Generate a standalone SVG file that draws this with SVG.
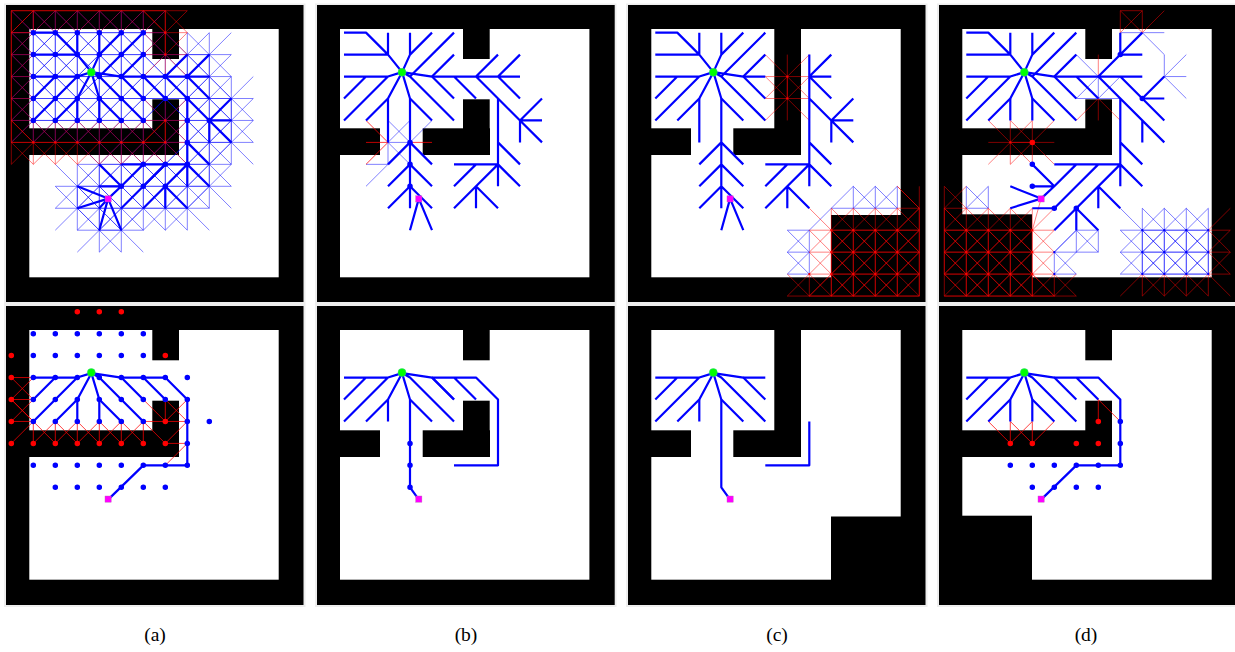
<svg xmlns="http://www.w3.org/2000/svg" xmlns:xlink="http://www.w3.org/1999/xlink" width="1235" height="652" viewBox="0 0 1235 652">
<style>
.frame{fill:#eee}
.b{fill:#000}
.w{fill:#fff}
path,use{vector-effect:non-scaling-stroke}
.bt{stroke:#00f;stroke-width:.5;fill:none}
.rt{stroke:#f00;stroke-width:.5;fill:none}
path.rt{stroke-width:.75}
.tk{stroke:#00f;stroke-width:2.2;fill:none;stroke-linejoin:round}
.dot{stroke:#00f;stroke-width:5.5;stroke-linecap:round;fill:none}
.rdot{stroke:#f00;stroke-width:5.5;stroke-linecap:round;fill:none}
.sdot{stroke:#f00;stroke-width:2.2;stroke-linecap:round;fill:none}
.sbl{stroke:#00f;stroke-width:2.2;stroke-linecap:round;fill:none}
.s{fill:#0f0;stroke:#3c8;stroke-width:.5}
.g{fill:#f0f;stroke:#b6b;stroke-width:.4}
text{font-family:"Liberation Serif","Times New Roman",serif;font-size:19.5px;fill:#000;text-anchor:middle}
</style>
<defs>
<path id="s" d="M-1 0H1M0-1V1M-1-1L1 1M-1 1L1-1"/>
<path id="sT" d="M-1 0H1M0 0V1M0 0L-1 1M0 0L1 1"/>
<path id="sL" d="M0-1V1M0 0H1M0 0L1-1M0 0L1 1"/>
<path id="sB" d="M-1 0H1M0 0V-1M0 0L-1-1M0 0L1-1"/>
<path id="sR" d="M0-1V1M0 0H-1M0 0L-1-1M0 0L-1 1"/>
<path id="treeL" d="M1 3H3L3.64 2.8M2 3L1 4M3 3L1 5M3.64 2.8L3 4L2 5M3.64 2.8L4 4L5 5M3.64 2.8L4 3L6 5M3.64 2.8L5 3L6 4"/>
<path id="treeT" d="M1 1H2L3 2L3.64 2.8L4 2V1M4 2L5 1M1 2H3V1M4 3L6 1M5 3L6 2"/>
<path id="treeR" d="M5 3H9M6 3L7 4M7 3L8 2M8 3L9 2M8 3L9 4M7 3L8 4L9 5L10 4M9 5H10M9 5V6M9 5L10 6M8 4V8M8 6L9 7M8 7L9 8M8 7H6M7 7L6 8M8 7L7 8L6 9M7 8V9M7 8L8 9"/>
<path id="pathEnd" d="M5 3H7L8 4V7H6L4.4 8.56M6 3L7 4"/>
</defs>

<g id="frames">
<rect class="frame" x="4" y="3.5" width="301.5" height="300.5"/>
<rect class="frame" x="315" y="3.5" width="301.5" height="300.5"/>
<rect class="frame" x="626" y="3.5" width="301.5" height="300.5"/>
<rect class="frame" x="937" y="3.5" width="298" height="300.5"/>
<rect class="frame" x="4" y="304" width="301.5" height="303"/>
<rect class="frame" x="315" y="304" width="301.5" height="303"/>
<rect class="frame" x="626" y="304" width="301.5" height="303"/>
<rect class="frame" x="937" y="304" width="298" height="303"/>
</g>

<!-- ===== panel a, top ===== -->
<g id="a-top">
<rect class="b" x="6" y="5" width="297.5" height="297"/>
<rect class="w" x="29.3" y="29" width="249.4" height="248.3"/>
<rect class="b" x="152.3" y="29" width="26.7" height="30"/>
<rect class="b" x="152.3" y="99.3" width="26.7" height="55.7"/>
<rect class="b" x="29" y="128.3" width="150" height="26.7"/>
<g transform="translate(11.3 10.7) scale(22 21.95)">
<g class="bt">
<use href="#s" x="1" y="1"/><use href="#s" x="2" y="1"/><use href="#s" x="3" y="1"/><use href="#s" x="4" y="1"/><use href="#s" x="5" y="1"/><use href="#s" x="6" y="1"/>
<use href="#s" x="1" y="2"/><use href="#s" x="2" y="2"/><use href="#s" x="3" y="2"/><use href="#s" x="4" y="2"/><use href="#s" x="5" y="2"/><use href="#s" x="6" y="2"/><use href="#s" x="8" y="2"/><use href="#s" x="9" y="2"/>
<use href="#s" x="1" y="3"/><use href="#s" x="2" y="3"/><use href="#s" x="3" y="3"/><use href="#s" x="4" y="3"/><use href="#s" x="5" y="3"/><use href="#s" x="6" y="3"/><use href="#s" x="7" y="3"/><use href="#s" x="8" y="3"/><use href="#s" x="9" y="3"/>
<use href="#s" x="1" y="4"/><use href="#s" x="2" y="4"/><use href="#s" x="3" y="4"/><use href="#s" x="4" y="4"/><use href="#s" x="5" y="4"/><use href="#s" x="6" y="4"/><use href="#s" x="7" y="4"/><use href="#s" x="8" y="4"/><use href="#s" x="9" y="4"/><use href="#s" x="10" y="4"/>
<use href="#s" x="1" y="5"/><use href="#s" x="2" y="5"/><use href="#s" x="3" y="5"/><use href="#s" x="4" y="5"/><use href="#s" x="5" y="5"/><use href="#s" x="6" y="5"/><use href="#s" x="8" y="5"/><use href="#s" x="9" y="5"/><use href="#s" x="10" y="5"/>
<use href="#s" x="8" y="6"/><use href="#s" x="9" y="6"/><use href="#s" x="10" y="6"/>
<use href="#s" x="4" y="7"/><use href="#s" x="5" y="7"/><use href="#s" x="6" y="7"/><use href="#s" x="7" y="7"/><use href="#s" x="8" y="7"/><use href="#s" x="9" y="7"/>
<use href="#s" x="3" y="8"/><use href="#s" x="4" y="8"/><use href="#s" x="5" y="8"/><use href="#s" x="6" y="8"/><use href="#s" x="7" y="8"/><use href="#s" x="8" y="8"/><use href="#s" x="9" y="8"/>
<use href="#s" x="3" y="9"/><use href="#s" x="4" y="9"/><use href="#s" x="5" y="9"/><use href="#s" x="6" y="9"/><use href="#s" x="7" y="9"/><use href="#s" x="8" y="9"/>
<use href="#s" x="4" y="10"/><use href="#s" x="5" y="10"/>
</g>
<g class="rt">
<path d="M0 0H1V1ZM0 0V1H1"/>
<use href="#sT" x="1" y="0"/><use href="#sT" x="2" y="0"/><use href="#sT" x="3" y="0"/><use href="#sT" x="4" y="0"/><use href="#sT" x="5" y="0"/><use href="#sT" x="6" y="0"/><use href="#sT" x="7" y="0"/>
<use href="#sL" x="0" y="1"/><use href="#sL" x="0" y="2"/><use href="#sL" x="0" y="3"/><use href="#sL" x="0" y="4"/><use href="#sL" x="0" y="5"/><use href="#sL" x="0" y="6"/>
<use href="#s" x="7" y="1"/><use href="#s" x="7" y="2"/><use href="#s" x="7" y="5"/>
<use href="#s" x="1" y="6"/><use href="#s" x="2" y="6"/><use href="#s" x="3" y="6"/><use href="#s" x="4" y="6"/><use href="#s" x="5" y="6"/><use href="#s" x="6" y="6"/><use href="#s" x="7" y="6"/>
</g>
<g class="tk">
<use href="#treeL"/><use href="#treeT"/><use href="#treeR"/>
<path d="M3 4V5M4 4V5M6 7H5M6 7L5 8M7 7L6 8L5 9M5 8L4 7M5 8H4M5 8L4.4 8.56L3 8M4.4 8.56L3 9M4.4 8.56L4 9M4.4 8.56L4 10M4.4 8.56L5 10"/>
</g>
<path class="sdot" d="M7 1h.001M7 2h.001M7 5h.001M1 6h.001M2 6h.001M3 6h.001M4 6h.001M5 6h.001M6 6h.001M7 6h.001"/>
<path class="dot" d="M1 1h.001M2 1h.001M3 1h.001M4 1h.001M5 1h.001M6 1h.001M1 2h.001M2 2h.001M3 2h.001M4 2h.001M5 2h.001M6 2h.001M1 3h.001M2 3h.001M3 3h.001M4 3h.001M5 3h.001M6 3h.001M7 3h.001M8 3h.001M1 4h.001M2 4h.001M3 4h.001M4 4h.001M5 4h.001M6 4h.001M7 4h.001M8 4h.001M1 5h.001M2 5h.001M3 5h.001M4 5h.001M5 5h.001M6 5h.001M8 5h.001M9 5h.001M8 6h.001M6 7h.001M7 7h.001M8 7h.001M5 8h.001M6 8h.001M7 8h.001"/>
</g>
<circle class="s" cx="91.3" cy="72.3" r="4"/>
<rect class="g" x="105" y="195.8" width="6.2" height="6.2"/>
</g>

<!-- ===== panel b, top ===== -->
<g id="b-top" transform="translate(310.7 0)">
<rect class="b" x="6.3" y="5" width="297.7" height="297"/>
<rect class="w" x="29.3" y="29" width="249.4" height="248.3"/>
<rect class="b" x="152.3" y="29" width="26.7" height="30"/>
<rect class="b" x="152.3" y="99.3" width="26.7" height="55.7"/>
<rect class="b" x="29" y="128.3" width="40.3" height="26.7"/>
<rect class="b" x="112" y="128.3" width="67.3" height="26.7"/>
<g transform="translate(11.3 10.7) scale(22 21.95)">
<path class="bt" d="M3 6L4 5M3 5L4 6M4 6L5 5M3 6L4 7M3 6H4M3 6V7M2 7H3M2 8L3 7"/>
<path class="rt" d="M2 5L3 6M2 6H3M2 7L3 6M4 6H5"/>
<g class="tk">
<use href="#treeL"/><use href="#treeT"/><use href="#treeR"/>
<path d="M3 4V6M3 7L4 6M4 4V9M4 6L5 7M4 7L3 8M4 7L5 8M4 8L3 9M4 8L5 9M4.4 8.56L4 10M4.4 8.56L5 10"/>
</g>
<path class="dot" d="M4 6h.001M4 7h.001M4 8h.001"/>
</g>
<circle class="s" cx="91.3" cy="72.3" r="4"/>
<rect class="g" x="105" y="195.8" width="6.2" height="6.2"/>
</g>

<!-- ===== panel c, top ===== -->
<g id="c-top" transform="translate(622 0)">
<rect class="b" x="6" y="5" width="297.5" height="297"/>
<rect class="w" x="29.3" y="29" width="249.4" height="248.3"/>
<rect class="b" x="152.3" y="29" width="26.7" height="126"/>
<rect class="b" x="29" y="128.3" width="40" height="26.7"/>
<rect class="b" x="111.3" y="128.3" width="67.7" height="26.7"/>
<rect class="b" x="209" y="215" width="70" height="63"/>
<g transform="translate(11.3 10.7) scale(22 21.95)">
<path class="bt" d="M7 10H8V12M7 11H8M7 12H8M7 10L8 11M7 11L8 10M7 11L8 12M7 12L8 11M8 10L10 8V9M10 8L11 9M11 8L10 9M11 8V9M11 8L12 9M12 8L11 9M12 8V9M9 9H12"/>
<g class="rt">
<use href="#s" x="7" y="3"/><use href="#s" x="7" y="4"/>
<use href="#s" x="9" y="10"/><use href="#s" x="10" y="10"/><use href="#s" x="11" y="10"/><use href="#s" x="12" y="10"/>
<use href="#s" x="9" y="11"/><use href="#s" x="10" y="11"/><use href="#s" x="11" y="11"/><use href="#s" x="12" y="11"/>
<use href="#s" x="9" y="12"/><use href="#s" x="10" y="12"/><use href="#s" x="11" y="12"/><use href="#s" x="12" y="12"/>
<use href="#sR" x="13" y="9"/><use href="#sR" x="13" y="10"/><use href="#sR" x="13" y="11"/><use href="#sR" x="13" y="12"/>
<use href="#sB" x="8" y="13"/><use href="#sB" x="9" y="13"/><use href="#sB" x="10" y="13"/><use href="#sB" x="11" y="13"/><use href="#sB" x="12" y="13"/>
<path d="M12 13H13V12M7 13L8 12M12 8L13 9"/>
</g>
<g class="tk">
<use href="#treeL"/><use href="#treeT"/>
<path d="M5 3H6M3 4V6M4 4V9M4 6L3 7M4 6L5 7M4 7L3 8M4 7L5 8M4 8L3 9M4 8L5 9M4.4 8.56L4 10M4.4 8.56L5 10"/>
<path d="M8 2V8M8 3L9 2M8 3H9M8 3L9 4M8 4L9 5L10 4M9 5H10M9 5V6M9 5L10 6M8 6L9 7M8 7L9 8M8 7H6M7 7L6 8M8 7L7 8L6 9M7 8V9M7 8L8 9"/>
</g>
<path class="sdot" d="M7 3h.001M7 4h.001M9 10h.001M10 10h.001M11 10h.001M12 10h.001M9 11h.001M10 11h.001M11 11h.001M12 11h.001M8 12h.001M9 12h.001M10 12h.001M11 12h.001M12 12h.001"/>
</g>
<circle class="s" cx="91.3" cy="72.3" r="4"/>
<rect class="g" x="105" y="195.8" width="6.2" height="6.2"/>
</g>

<!-- ===== panel d, top ===== -->
<g id="d-top" transform="translate(933 0)">
<rect class="b" x="6" y="5" width="296" height="297"/>
<rect class="w" x="29.3" y="29" width="249.4" height="248.3"/>
<rect class="b" x="152.3" y="29" width="26.7" height="30"/>
<rect class="b" x="152.3" y="99.3" width="26.7" height="55.7"/>
<rect class="b" x="29" y="128.3" width="150" height="26.7"/>
<rect class="b" x="29" y="214.3" width="70" height="64"/>
<g transform="translate(11.3 10.7) scale(22 21.95)">
<g class="bt">
<use href="#s" x="9" y="10"/><use href="#s" x="10" y="10"/><use href="#s" x="11" y="10"/>
<use href="#s" x="9" y="11"/><use href="#s" x="10" y="11"/><use href="#s" x="11" y="11"/>
<use href="#sB" x="9" y="12"/><use href="#sB" x="10" y="12"/><use href="#sB" x="11" y="12"/>
<use href="#sR" x="12" y="10"/><use href="#sR" x="12" y="11"/>
<path d="M12 12H11M12 12V11M12 12L11 11"/>
<path d="M6 2L7 3M6 4H8M7 3V4M6 4L7 3M8 4L7 3M6 3L7 4M8 3L7 4"/>
<path d="M9 1H10M9 1L10 2V3M10 3H11M10 3L11 2M10 3L11 4M8 1H9"/>
<path d="M1 8V9H2V8M1 8L2 9M2 8L1 9"/>
<path d="M5 12V11L6 10L7 11V10H6V11H7M6 10L5 11M5 11H6M5 11L6 12M6 11L5 12H6M7 10L6 11"/>
</g>
<g class="rt">
<use href="#s" x="3" y="6"/><use href="#s" x="4" y="6"/>
<path d="M7 2V3M7 4V5M6 5L7 4L8 5"/>
<path d="M8 0H9V1M8 0V1M8 0L9 1M9 0L8 1M10 0L9 1"/>
<path d="M12 10H13M12 11H13M12 12H13M13 9L12 10L13 11L12 12M13 10L12 11L13 12"/>
<path d="M8 13L9 12V13M9 12L10 13M10 12L9 13M10 12V13M10 12L11 13M11 12L10 13M11 12V13M11 12L12 13M12 12L11 13M12 12V13M12 12L13 13"/>
<use href="#sL" x="0" y="9"/><use href="#sL" x="0" y="10"/><use href="#sL" x="0" y="11"/><use href="#sL" x="0" y="12"/>
<path d="M0 8L1 9"/>
<use href="#s" x="1" y="10"/><use href="#s" x="2" y="10"/><use href="#s" x="3" y="10"/><use href="#s" x="4" y="10"/>
<use href="#s" x="1" y="11"/><use href="#s" x="2" y="11"/><use href="#s" x="3" y="11"/><use href="#s" x="4" y="11"/>
<use href="#s" x="1" y="12"/><use href="#s" x="2" y="12"/><use href="#s" x="3" y="12"/><use href="#s" x="4" y="12"/>
<use href="#sB" x="1" y="13"/><use href="#sB" x="2" y="13"/><use href="#sB" x="3" y="13"/><use href="#sB" x="4" y="13"/><use href="#sB" x="5" y="13"/>
<path d="M0 13H1M5 12L6 13M4.4 8.56L4 10"/>
</g>
<g class="tk">
<use href="#treeL"/><use href="#treeT"/>
<path d="M3 4V5M4 4V5M5 3H9M6 3L7 4M7 3L9 1M8 1V2M8 2H9M8 3L9 4L10 3M9 4H10M9 4L10 5M7 3L10 6M9 5V6M8 4V8M8 6L9 7M8 7L9 8M8 7H5M6 7L5 8M7 7L6 8L5 9M8 7L5 10M7 8V9M7 8L8 9M6 9V10M6 9L7 10M5 9H4M5 8L4 7M5 8H4M5 8L4.4 8.56L3 8M4.4 8.56L3 9"/>
</g>
<path class="sdot" d="M3 6h.001M1 10h.001M2 10h.001M3 10h.001M4 10h.001M1 11h.001M2 11h.001M3 11h.001M4 11h.001M1 12h.001M2 12h.001M3 12h.001M4 12h.001"/>
<path class="sbl" d="M9 10h.001M10 10h.001M11 10h.001M12 10h.001M9 11h.001M10 11h.001M11 11h.001M12 11h.001M9 12h.001M10 12h.001M11 12h.001M12 12h.001M5 11h.001M5 12h.001"/>
<path class="rdot" d="M4 6h.001"/>
<path class="dot" d="M8 2h.001M9 4h.001M5 9h.001M6 9h.001M4 7h.001M4 8h.001"/>
</g>
<circle class="s" cx="91.3" cy="72.3" r="4"/>
<rect class="g" x="105" y="195.8" width="6.2" height="6.2"/>
</g>

<!-- ===== panel a, bottom ===== -->
<g id="a-bottom" transform="translate(0 301)">
<rect class="b" x="6" y="5" width="297.5" height="299"/>
<rect class="w" x="29.3" y="29" width="249.4" height="249.7"/>
<rect class="b" x="152.3" y="29" width="26.7" height="30.3"/>
<rect class="b" x="152.3" y="99.7" width="26.7" height="56.3"/>
<rect class="b" x="29" y="129.3" width="150" height="26.7"/>
<g transform="translate(11.3 10.7) scale(22 21.95)">
<path class="rt" d="M1 3H0L1 4H0L1 5H0M1 3L0 4L1 5M1 4L0 5M1 5L0 6M1 5V6M1 5L2 6M2 5L1 6M2 5V6M2 5L3 6M3 5L2 6M3 5V6M3 5L4 6M4 5L3 6M4 5V6M4 5L5 6M5 5L4 6M5 5V6M5 5L6 6M6 5L5 6M6 5V6M6 5L7 6M6 5H8M6 4L7 5V4L8 5M8 4L7 5M8 5L7 6H8M8 6L7 7"/>
<g class="tk">
<use href="#treeL"/><use href="#pathEnd"/>
<path d="M3 4V5M4 4V5"/>
</g>
<path class="rdot" d="M3 0h.001M4 0h.001M5 0h.001M0 2h.001M7 2h.001M0 3h.001M0 4h.001M0 5h.001M7 5h.001M0 6h.001M1 6h.001M2 6h.001M3 6h.001M4 6h.001M5 6h.001M6 6h.001M7 6h.001"/>
<path class="dot" d="M1 1h.001M2 1h.001M3 1h.001M4 1h.001M5 1h.001M6 1h.001M1 2h.001M2 2h.001M3 2h.001M4 2h.001M5 2h.001M6 2h.001M1 3h.001M2 3h.001M3 3h.001M4 3h.001M5 3h.001M6 3h.001M7 3h.001M8 3h.001M1 4h.001M2 4h.001M3 4h.001M4 4h.001M5 4h.001M6 4h.001M7 4h.001M8 4h.001M1 5h.001M2 5h.001M3 5h.001M4 5h.001M5 5h.001M6 5h.001M8 5h.001M9 5h.001M8 6h.001M1 7h.001M2 7h.001M3 7h.001M4 7h.001M5 7h.001M6 7h.001M7 7h.001M8 7h.001M2 8h.001M3 8h.001M4 8h.001M5 8h.001M6 8h.001M7 8h.001"/>
</g>
<circle class="s" cx="91.3" cy="71.6" r="4"/>
<rect class="g" x="105" y="195" width="6.2" height="6.2"/>
</g>

<!-- ===== panel b, bottom ===== -->
<g id="b-bottom" transform="translate(310.7 301)">
<rect class="b" x="6.3" y="5" width="297.7" height="299"/>
<rect class="w" x="29.3" y="29" width="249.4" height="249.7"/>
<rect class="b" x="152.3" y="29" width="26.7" height="30.3"/>
<rect class="b" x="152.3" y="99.7" width="26.7" height="56.3"/>
<rect class="b" x="29" y="129.3" width="40.3" height="26.7"/>
<rect class="b" x="112" y="129.3" width="67.3" height="26.7"/>
<g transform="translate(11.3 10.7) scale(22 21.95)">
<g class="tk">
<use href="#treeL"/>
<path d="M3 4V5M4 4V8L4.4 8.56M5 3H7L8 4V7H6M5 3L6 4M6 3L7 4"/>
</g>
<path class="dot" d="M4 6h.001M4 7h.001M4 8h.001"/>
</g>
<circle class="s" cx="91.3" cy="71.6" r="4"/>
<rect class="g" x="105" y="195" width="6.2" height="6.2"/>
</g>

<!-- ===== panel c, bottom ===== -->
<g id="c-bottom" transform="translate(622 301)">
<rect class="b" x="6" y="5" width="297.5" height="299"/>
<rect class="w" x="29.3" y="29" width="249.4" height="249.7"/>
<rect class="b" x="152.3" y="29" width="26.7" height="127"/>
<rect class="b" x="29" y="129.3" width="40" height="26.7"/>
<rect class="b" x="111.3" y="129.3" width="67.7" height="26.7"/>
<rect class="b" x="209" y="215.5" width="70" height="64"/>
<g transform="translate(11.3 10.7) scale(22 21.95)">
<g class="tk">
<use href="#treeL"/>
<path d="M3 4V5M4 4V8L4.4 8.56M5 3H6M6 7H8V5"/>
</g>
</g>
<circle class="s" cx="91.3" cy="71.6" r="4"/>
<rect class="g" x="105" y="195" width="6.2" height="6.2"/>
</g>

<!-- ===== panel d, bottom ===== -->
<g id="d-bottom" transform="translate(933 301)">
<rect class="b" x="6" y="5" width="296" height="299"/>
<rect class="w" x="29.3" y="29" width="249.4" height="249.7"/>
<rect class="b" x="152.3" y="29" width="26.7" height="30.3"/>
<rect class="b" x="152.3" y="99.7" width="26.7" height="56.3"/>
<rect class="b" x="29" y="129.3" width="150" height="26.7"/>
<rect class="b" x="29" y="214.7" width="70" height="65"/>
<g transform="translate(11.3 10.7) scale(22 21.95)">
<path class="rt" d="M2 5L3 6V5L4 6V5L3 6M5 5L4 6M7 4V5M7 4L8 5"/>
<g class="tk">
<use href="#treeL"/><use href="#pathEnd"/>
<path d="M3 4V5M4 4V5"/>
</g>
<path class="rdot" d="M7 5h.001M6 6h.001M7 6h.001M3 6h.001M4 6h.001"/>
<path class="dot" d="M8 5h.001M8 6h.001M8 7h.001M7 7h.001M6 7h.001M5 7h.001M4 7h.001M3 7h.001M4 8h.001M5 8h.001M6 8h.001M7 8h.001"/>
</g>
<circle class="s" cx="91.3" cy="71.6" r="4"/>
<rect class="g" x="105" y="195" width="6.2" height="6.2"/>
</g>

<g id="captions">
<text x="155" y="640.5">(a)</text>
<text x="466" y="640.5">(b)</text>
<text x="777" y="640.5">(c)</text>
<text x="1086" y="640.5">(d)</text>
</g>
</svg>
